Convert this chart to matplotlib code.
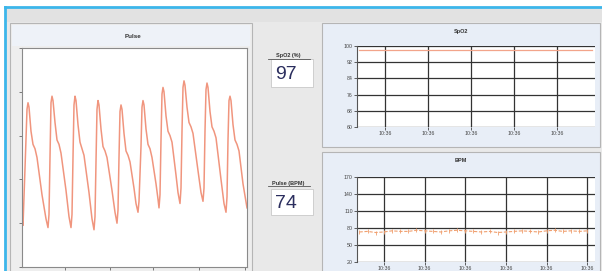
import numpy as np
import matplotlib
matplotlib.use("Agg")
import matplotlib.pyplot as plt
from matplotlib.patches import Rectangle
from matplotlib.lines import Line2D

W, H = 602, 271

pulse_t = [0, 1, 3, 5, 6, 7, 9, 11, 13, 15, 20, 24, 26,
           27, 28, 29, 30, 31, 33, 35, 37, 39, 44, 47, 49,
           50, 51, 52, 53, 54, 56, 58, 60, 62, 67, 70, 72,
           73, 74, 75, 76, 77, 79, 81, 83, 85, 90, 93, 95,
           96, 97, 98, 99, 100, 102, 104, 106, 108, 112, 114, 116,
           117, 119, 120, 121, 122, 124, 126, 128, 130, 134, 136, 137,
           138, 139, 140, 141, 142, 144, 146, 148, 150, 154, 156, 158,
           159, 160, 161, 162, 163, 165, 167, 169, 171, 176, 179, 181,
           182, 183, 184, 185, 186, 188, 190, 192, 194, 199, 202, 204,
           205, 206, 207, 208, 209, 211, 213, 215, 217, 221, 225]
pulse_v = [22, 19, 45, 72, 75, 73, 62, 56, 54, 50, 33, 22, 18,
           24, 50, 75, 78, 76, 66, 58, 56, 52, 35, 23, 18,
           24, 50, 74, 78, 76, 65, 57, 54, 51, 34, 22, 17,
           23, 48, 72, 76, 74, 63, 55, 53, 50, 35, 25, 20,
           26, 50, 71, 74, 72, 61, 53, 51, 48, 36, 29, 25,
           30, 55, 73, 76, 74, 63, 56, 54, 50, 38, 31, 27,
           33, 58, 79, 82, 80, 69, 62, 60, 57, 42, 34, 29,
           36, 62, 82, 85, 83, 73, 66, 64, 61, 44, 34, 30,
           36, 62, 81, 84, 82, 71, 64, 62, 59, 40, 29, 25,
           32, 58, 76, 78, 76, 65, 58, 56, 53, 38, 27]

spo2_t = [4, 6, 8, 10, 12, 14, 16, 18, 20, 22, 24, 26, 28, 30, 32, 34,
          36, 38, 40, 42, 44, 46, 48, 50, 52, 54, 56, 58]
spo2_v = [98, 98, 98, 98, 98, 98, 98, 98, 98, 98, 98, 98, 98, 98, 98, 98,
          98, 98, 98, 98, 98, 98, 98, 98, 98, 98, 98, 98]

bpm_t = [4, 6, 8, 10, 12, 14, 16, 18, 20, 22, 24, 26, 28, 30, 32, 34, 36,
         38, 40, 42, 44, 46, 48, 50, 52, 54, 56, 58, 60]
bpm_v = [73, 74, 72, 73, 75, 74, 74, 76, 75, 74, 73, 75, 76, 75, 74, 73,
         74, 72, 73, 74, 75, 74, 73, 75, 76, 74, 75, 74, 75]

spo2_yticks = [60, 68, 76, 84, 92, 100]
bpm_yticks = [20, 50, 80, 110, 140, 170]
time_label = "10:36"

spo2_reading = "97"
bpm_reading = "74"

plt.rcParams['font.family'] = ['Liberation Sans', 'DejaVu Sans']

fig = plt.figure(figsize=(W / 100, H / 100), dpi=100)
fig.patch.set_facecolor('#e9e9e9')


def rect(x0, y0, x1, y1):
    # pixel box (top-left origin) -> figure fraction [l, b, w, h]
    return [x0 / W, 1 - y1 / H, (x1 - x0) / W, (y1 - y0) / H]


def box(x0, y0, x1, y1, fc, ec='none', lw=0.8, z=-3):
    l, b, w, h = rect(x0, y0, x1, y1)
    fig.patches.append(Rectangle((l, b), w, h, transform=fig.transFigure,
                                 facecolor=fc, edgecolor=ec, lw=lw, zorder=z))


def fline(xs, ys, **kw):
    fig.lines.append(Line2D([x / W for x in xs], [1 - y / H for y in ys],
                            transform=fig.transFigure, zorder=-1, **kw))


def ftext(x, y, s, **kw):
    fig.text(x / W, 1 - y / H, s, **kw)


# outer window: white margin, cyan border, grey strip
box(0, 0, W, 7, '#ffffff')
box(0, 0, 5, H, '#ffffff')
box(6, 8, W, 22, '#e2e2e2')
fline([5, W], [7, 7], color='#3cb6ea', lw=2)
fline([5, 5], [7, H], color='#3cb6ea', lw=2)

# left pulse panel
box(10, 23, 252, H + 2, '#eeeeee', ec='#b5b5b5')
box(12, 25, 250, 46, '#eef2f8', z=-2)
ftext(133, 36, "Pulse", ha='center', va='center', fontsize=4.5, fontweight='bold',
      color='#333333')

ax = fig.add_axes(rect(22, 48, 247, 267))
ax.plot(pulse_t, pulse_v, color='#ef8a70', lw=1.1, alpha=0.9)
ax.set_xlim(0, 225)
ax.set_ylim(0, 100)
ax.set_xticks([43, 88, 131, 177, 223])
ax.set_yticks([0, 20, 40, 60, 80, 100])
ax.tick_params(length=2, width=0.6, labelleft=False, labelbottom=False, color='#666666')
for s in ax.spines.values():
    s.set_color('#8a8a8a')
    s.set_linewidth(0.8)

# middle readouts
for (ly, y0, y1, label, val) in [(56, 59, 87, "SpO2 (%)", spo2_reading),
                                  (183, 189, 215, "Pulse (BPM)", bpm_reading)]:
    ftext(288, ly, label, ha='center', va='center', fontsize=4, fontweight='bold',
          color='#333333')
    fline([268, 310], [ly + 3, ly + 3], color='#555555', lw=0.6)
    box(271, y0, 313, y1, '#ffffff', ec='#c8c8c8', lw=0.6, z=-2)
    ftext(275, (y0 + y1) / 2 + 1, val, ha='left', va='center', fontsize=14,
          color='#2b2e5e')


def trend(y0, y1, ay0, ay1, title, t, v, yticks, xticks, xlim, line_kw):
    box(322, y0, 600, y1, '#e8eef7', ec='#b5b5b5')
    ftext(461, y0 + 9, title, ha='center', va='center', fontsize=4, fontweight='bold',
          color='#333333')
    a = fig.add_axes(rect(357, ay0, 595, ay1))
    a.plot(t, v, **line_kw)
    a.set_ylim(yticks[0], yticks[-1])
    a.set_xlim(*xlim)
    a.set_yticks(yticks)
    a.set_xticks(xticks)
    a.set_xticklabels([time_label] * len(xticks))
    a.grid(True, color='#333333', lw=0.9)
    a.set_axisbelow(True)
    a.tick_params(length=2, width=0.6, labelsize=3.8, pad=1, colors='#444444')
    for s in a.spines.values():
        s.set_visible(False)
    a.spines['left'].set_visible(True)
    a.spines['left'].set_color('#555555')
    return a


trend(23, 147, 46, 127, "SpO2", spo2_t, spo2_v, spo2_yticks,
      [10, 20, 30, 40, 50], (3.5, 58.8),
      dict(color='#f2a48a', lw=0.9))
trend(152, H + 2, 177, 262, "BPM", bpm_t, bpm_v, bpm_yticks,
      [10, 20, 30, 40, 50, 60], (3.4, 61.9),
      dict(color='#f0a070', lw=0.8, ls=(0, (3, 1.5)), marker='|', ms=2.5, mew=0.6))

fig.savefig("out.png", dpi=100, facecolor=fig.get_facecolor())
